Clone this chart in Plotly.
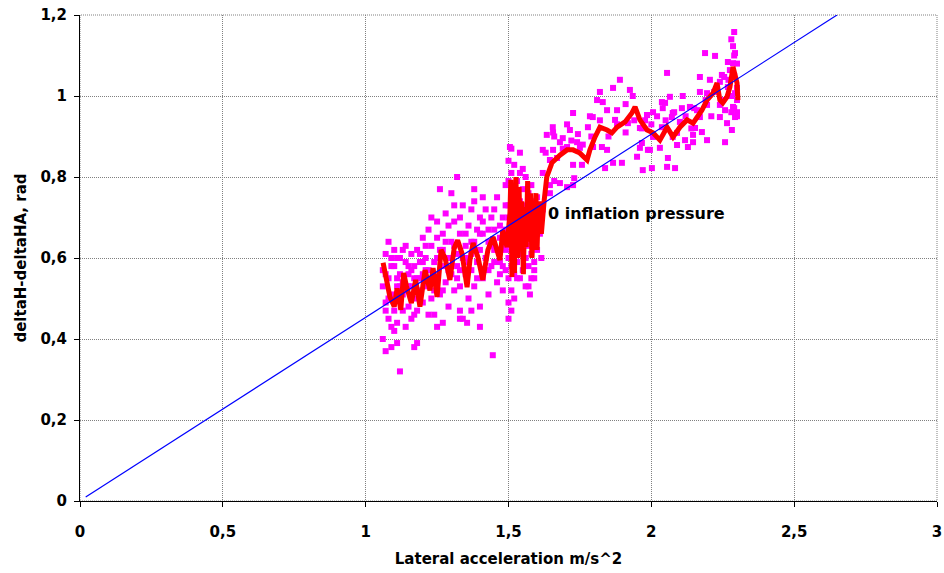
import plotly.graph_objects as go

# ---------------- data ----------------
scatter_x = [
    1.06,1.06,1.07,1.07,1.08,1.08,1.08,1.09,1.09,1.10,1.10,1.10,1.11,1.11,1.12,1.12,1.12,1.13,1.13,1.14,1.14,1.14,1.15,1.15,1.16,1.16,1.16,1.17,1.17,1.18,1.18,1.18,1.19,1.19,1.20,1.20,1.20,
    1.06,1.07,1.09,1.11,1.12,1.17,1.18,1.14,1.10,
    1.21,1.21,1.22,1.22,1.23,1.23,1.24,1.24,1.25,1.25,1.26,1.26,1.26,1.27,1.27,1.28,1.28,1.29,1.29,1.30,1.30,1.30,1.31,1.31,1.32,1.32,1.33,1.33,1.34,1.34,1.34,1.35,1.35,1.36,1.36,1.37,1.37,1.38,1.38,1.38,1.39,1.39,1.40,1.40,1.40,
    1.25,1.27,1.33,1.37,1.22,1.32,1.38,1.40,1.355,1.33,
    1.41,1.41,1.42,1.42,1.43,1.43,1.44,1.44,1.445,1.45,1.45,1.46,1.46,1.47,1.47,1.48,1.48,1.48,1.49,1.49,1.49,
    1.50,1.50,1.50,1.50,1.50,1.50,1.50,1.50,1.51,1.51,1.51,1.51,1.51,1.51,1.51,1.51,1.52,1.52,1.52,1.52,1.52,1.52,1.53,1.53,1.53,1.53,1.54,1.54,1.54,1.54,1.54,1.55,1.55,1.55,1.55,1.56,1.56,1.56,1.56,1.56,1.57,1.57,1.57,1.57,1.58,1.58,1.58,1.58,1.58,1.59,1.59,1.59,1.59,1.60,1.60,1.60,1.61,1.505,1.54,
    1.07,1.07,1.09,1.09,1.11,1.11,1.13,1.13,1.15,1.15,1.17,1.17,1.19,1.19,1.21,1.21,1.23,1.23,1.25,1.25,1.27,1.27,1.29,1.29,1.31,1.31,1.33,1.33,1.35,1.35,1.37,1.37,1.39,1.39,1.41,1.41,1.43,1.43,1.45,1.45,1.47,1.47,1.49,1.49,
    1.08,1.12,1.16,1.20,1.24,1.28,1.32,1.36,1.40,1.44,1.48,
    1.50,1.51,1.52,1.53,1.54,1.55,1.56,1.57,1.58,1.59,1.60,1.61,1.62,1.615,1.59,1.575,
    1.89,1.866,1.82,1.81,1.83,1.925,1.935,1.726,1.91,1.88,1.845,1.785,1.795,1.705,1.655,1.634,1.656,1.715,1.743,1.778,1.873,1.918,1.96,1.985,1.69,1.68,1.74,1.62,1.656,1.705,1.75,1.796,1.827,1.845,1.96,1.988,1.645,1.67,1.726,1.757,1.838,1.866,1.897,1.95,1.97,1.62,1.73,1.645,1.68,1.705,1.726,1.645,1.66,
    1.63,1.66,1.69,1.72,1.76,1.79,1.82,1.85,1.88,1.91,1.94,
    2.286,2.293,2.188,2.223,2.268,2.286,2.055,2.275,2.17,2.247,2.255,2.205,2.24,2.11,2.17,2.195,2.065,2.268,2.293,2.037,2.048,2.006,2.04,2.075,2.107,2.135,2.16,2.195,2.24,2.258,2.286,2.30,1.985,1.978,2.072,2.10,2.17,2.24,2.293,2.265,1.967,2.037,2.09,2.153,2.177,2.282,2.006,2.075,2.118,2.146,2.195,1.967,1.995,2.03,2.09,2.128,2.146,2.258,2.058,2.055,2.083,2.002,
    2.29,2.28,2.29,2.30,2.29,2.30,2.28,2.30,2.29,2.28,2.30,
    2.00,2.02,2.05,2.08,2.12,2.15,2.19,2.22,2.25,2.27,2.21,2.14,
]
scatter_y = [
    0.57,0.53,0.61,0.49,0.64,0.55,0.45,0.60,0.51,0.47,0.58,0.62,0.53,0.44,0.56,0.50,0.60,0.47,0.54,0.59,0.52,0.63,0.48,0.56,0.61,0.53,0.45,0.58,0.50,0.62,0.55,0.47,0.59,0.52,0.65,0.56,0.49,
    0.40,0.37,0.38,0.39,0.32,0.38,0.39,0.43,0.42,
    0.60,0.53,0.67,0.57,0.50,0.63,0.59,0.46,0.55,0.69,0.77,0.62,0.51,0.58,0.66,0.54,0.71,0.60,0.48,0.76,0.64,0.56,0.69,0.52,0.61,0.58,0.66,0.53,0.73,0.60,0.45,0.63,0.56,0.68,0.50,0.61,0.57,0.74,0.64,0.53,0.67,0.59,0.62,0.48,0.70,
    0.43,0.44,0.45,0.47,0.46,0.80,0.77,0.43,0.44,0.47,
    0.66,0.55,0.72,0.60,0.64,0.51,0.70,0.58,0.36,0.67,0.62,0.54,0.75,0.65,0.59,0.70,0.52,0.63,0.67,0.57,0.78,
    0.84,0.79,0.73,0.66,0.60,0.55,0.49,0.45,0.87,0.81,0.76,0.70,0.64,0.58,0.52,0.47,0.83,0.77,0.68,0.62,0.56,0.50,0.79,0.72,0.65,0.59,0.81,0.74,0.69,0.61,0.55,0.77,0.71,0.64,0.57,0.80,0.73,0.66,0.60,0.53,0.76,0.70,0.63,0.58,0.78,0.72,0.67,0.61,0.55,0.74,0.69,0.64,0.59,0.71,0.66,0.62,0.70,0.874,0.86,
    0.56,0.47,0.58,0.43,0.55,0.60,0.51,0.62,0.53,0.58,0.55,0.46,0.61,0.55,0.63,0.57,0.70,0.54,0.60,0.65,0.52,0.62,0.68,0.57,0.63,0.73,0.57,0.70,0.60,0.66,0.64,0.72,0.55,0.62,0.69,0.75,0.57,0.67,0.59,0.72,0.68,0.56,0.62,0.73,
    0.50,0.53,0.57,0.59,0.52,0.64,0.55,0.59,0.66,0.63,0.58,
    0.70,0.62,0.73,0.55,0.66,0.82,0.69,0.53,0.64,0.57,0.75,0.66,0.72,0.60,0.55,0.51,
    1.04,1.02,1.01,0.99,0.985,1.015,1.00,0.958,0.98,0.965,0.965,0.95,0.948,0.93,0.923,0.904,0.91,0.916,0.906,0.923,0.941,0.933,0.921,0.953,0.896,0.886,0.886,0.867,0.867,0.874,0.872,0.874,0.874,0.867,0.872,0.867,0.842,0.847,0.83,0.83,0.822,0.835,0.835,0.85,0.817,0.81,0.797,0.78,0.785,0.775,0.78,0.76,0.79,
    0.86,0.90,0.87,0.89,0.88,0.90,0.94,0.90,0.93,0.91,0.94,
    1.123,1.106,1.106,1.099,1.084,1.081,1.057,1.064,1.047,1.052,1.047,1.04,1.035,1.00,1.01,1.007,0.998,1.022,1.007,0.985,0.983,0.96,0.97,0.958,0.97,0.973,0.965,0.978,0.978,0.965,0.973,0.96,0.953,0.94,0.948,0.936,0.948,0.948,0.948,0.933,0.92,0.923,0.909,0.921,0.911,0.916,0.899,0.899,0.891,0.904,0.891,0.884,0.867,0.872,0.879,0.874,0.886,0.886,0.847,0.825,0.822,0.822,
    1.158,1.14,1.10,1.08,1.05,1.02,1.00,0.99,0.97,0.96,0.95,
    0.93,0.95,0.94,0.96,0.95,0.97,0.99,1.01,0.99,1.04,0.95,0.92,
]

avg_x = [
    1.061,1.075,1.085,1.100,1.110,1.123,1.133,1.143,1.160,1.175,1.190,1.208,1.225,1.236,1.250,1.264,1.278,1.295,1.310,1.322,1.337,1.355,1.365,1.376,1.393,1.410,1.428,1.446,1.460,1.470,1.480,1.495,1.505,1.508,
    1.512,1.516,1.521,1.526,1.532,1.537,1.541,1.546,1.552,1.557,1.562,1.567,1.572,1.577,1.582,1.587,1.592,1.596,1.600,1.604,1.608,1.612,1.615,1.618,
    1.618,1.625,1.634,1.652,1.680,1.705,1.726,1.750,1.775,1.785,1.803,1.820,1.845,1.862,1.880,1.908,1.932,1.943,1.960,1.985,2.006,2.030,2.055,2.076,2.100,2.125,2.146,2.160,2.177,2.195,2.216,2.230,2.240,2.250,2.265,2.275,2.286,2.300,2.303,
]
avg_y = [
    0.588,0.540,0.504,0.480,0.525,0.472,0.563,0.530,0.489,0.546,0.480,0.570,0.520,0.575,0.504,0.620,0.600,0.546,0.625,0.644,0.612,0.528,0.595,0.637,0.602,0.546,0.620,0.652,0.612,0.595,0.669,0.627,0.711,0.793,
    0.553,0.760,0.563,0.800,0.600,0.775,0.644,0.740,0.560,0.726,0.627,0.790,0.640,0.760,0.600,0.720,0.669,0.760,0.620,0.720,0.677,0.740,0.660,0.700,
    0.677,0.743,0.800,0.835,0.854,0.867,0.867,0.859,0.842,0.867,0.899,0.923,0.916,0.909,0.923,0.936,0.958,0.973,0.941,0.916,0.909,0.891,0.923,0.899,0.923,0.941,0.933,0.948,0.965,0.990,1.007,1.032,0.990,0.983,0.998,1.022,1.072,1.032,0.990,
]

fit_x = [0.02, 2.65]
fit_y = [0.01, 1.20]

x_ticks = [0, 0.5, 1, 1.5, 2, 2.5, 3]
x_tick_text = ["0", "0,5", "1", "1,5", "2", "2,5", "3"]
y_ticks = [0, 0.2, 0.4, 0.6, 0.8, 1.0, 1.2]
y_tick_text = ["0", "0,2", "0,4", "0,6", "0,8", "1", "1,2"]

label_text = "0 inflation pressure"
label_pos = (1.632, 0.711)

# ---------------- figure ----------------
FONT = "DejaVu Sans, Arial, sans-serif"
GRID = "#808080"

fig = go.Figure()
fig.add_trace(go.Scatter(
    x=scatter_x, y=scatter_y, mode="markers",
    marker=dict(symbol="square", size=6, color="#FF00FF", line=dict(width=0)),
    hoverinfo="skip", showlegend=False, cliponaxis=False,
))
fig.add_trace(go.Scatter(
    x=avg_x, y=avg_y, mode="lines",
    line=dict(color="#FF0000", width=5),
    showlegend=False,
))
fig.add_trace(go.Scatter(
    x=fit_x, y=fit_y, mode="lines",
    line=dict(color="#0000FF", width=1.2),
    showlegend=False,
))

fig.add_annotation(
    x=label_pos[0], y=label_pos[1], text=label_text,
    showarrow=False, xanchor="left", yanchor="middle",
    font=dict(family=FONT, size=16, color="black", weight="bold"),
)

# plot-area frame (top/right edges drawn like the gridlines)
fig.add_shape(type="rect", xref="x domain", yref="y domain", x0=0, y0=0, x1=1, y1=1,
              line=dict(color=GRID, width=1, dash="1px,1px"), layer="below")

axis_common = dict(
    showgrid=True, gridcolor=GRID, griddash="1px,1px", gridwidth=1,
    showline=True, linecolor="black", linewidth=1,
    ticks="outside", ticklen=5, tickcolor="black",
    tickfont=dict(family=FONT, size=15, color="black", weight="bold"),
    zeroline=False, mirror=False, automargin=False,
    ticklabeloverflow="allow",
)

fig.update_layout(
    width=944, height=573,
    margin=dict(l=80, r=7, t=15, b=72),
    paper_bgcolor="white", plot_bgcolor="white",
    showlegend=False,
    xaxis=dict(
        range=[0, 3], tickvals=x_ticks, ticktext=x_tick_text,
        ticklabelstandoff=12,
        title=dict(text="Lateral acceleration m/s^2", standoff=13,
                   font=dict(family=FONT, size=15, color="black", weight="bold")),
        **axis_common,
    ),
    yaxis=dict(
        range=[0, 1.2], tickvals=y_ticks, ticktext=y_tick_text,
        ticklabelstandoff=4,
        title=dict(text="deltaH-deltaHA, rad", standoff=10,
                   font=dict(family=FONT, size=15, color="black", weight="bold")),
        **axis_common,
    ),
)

# remove the page's default body margin so the 944x573 figure fills the window exactly
fig.write_html(
    "out.html",
    config={"displayModeBar": False},
    post_script="document.documentElement.style.overflow='hidden';"
                "document.body.style.margin='0';document.body.style.overflow='hidden';",
)
